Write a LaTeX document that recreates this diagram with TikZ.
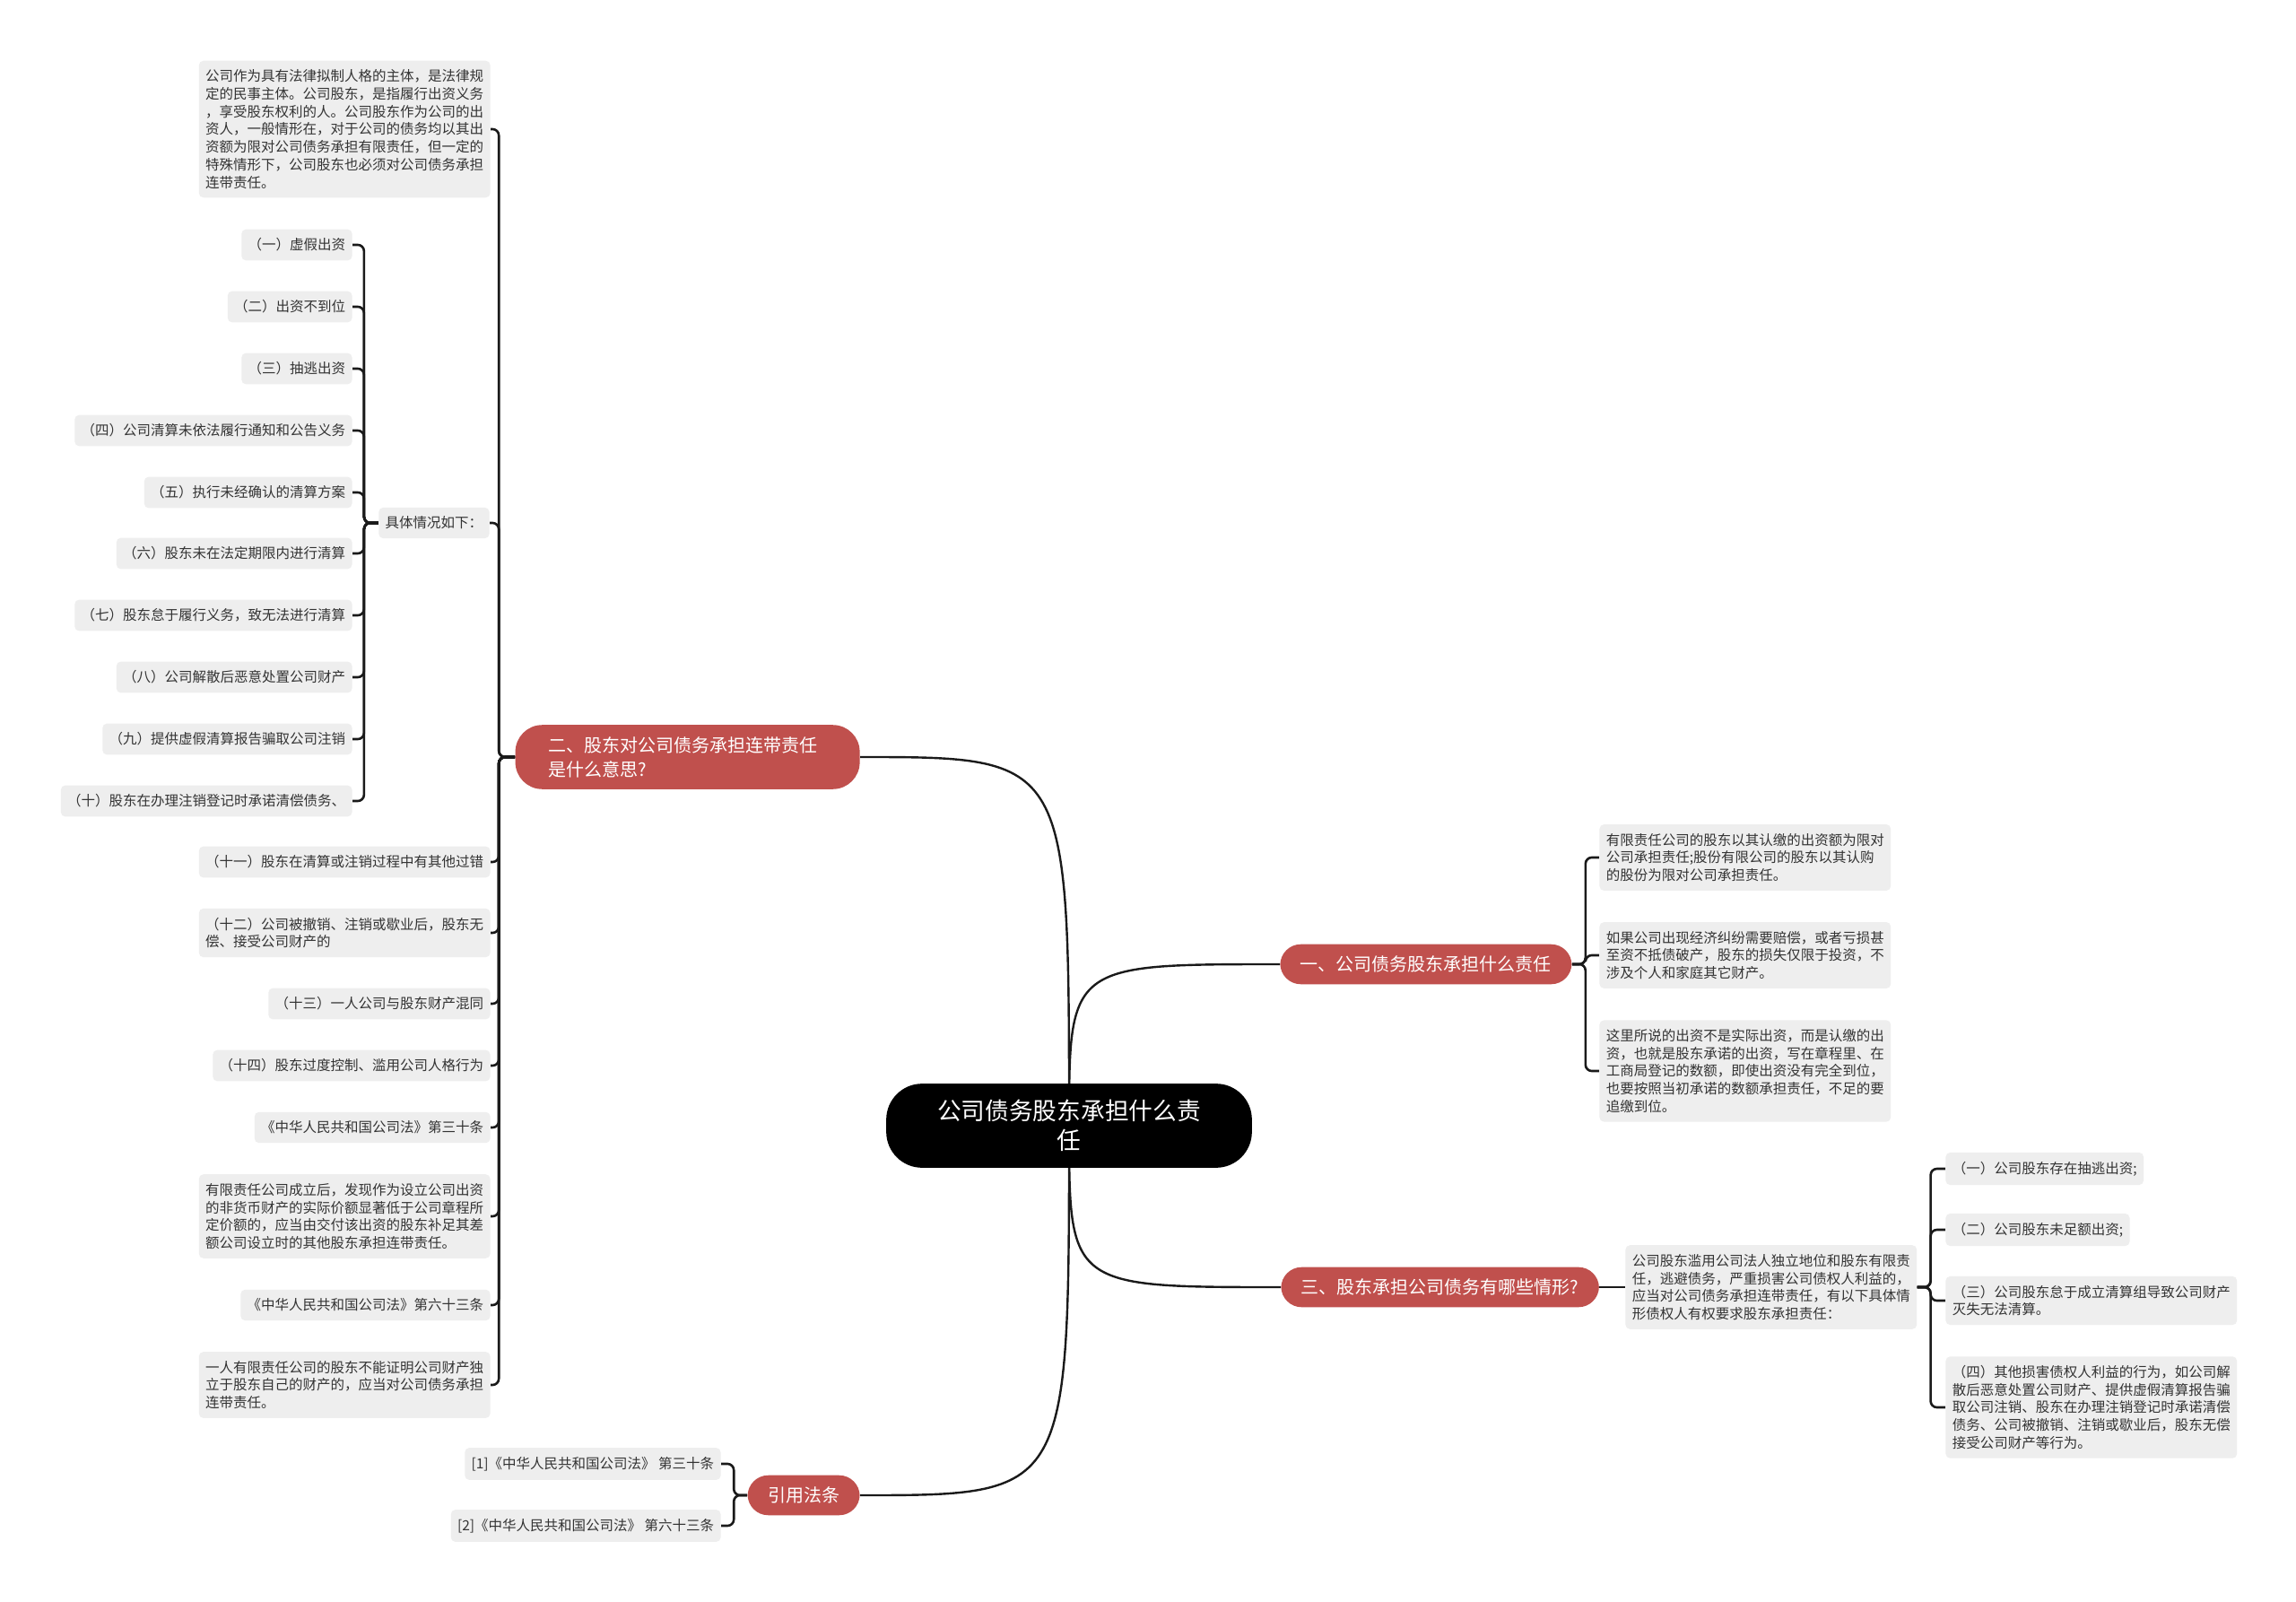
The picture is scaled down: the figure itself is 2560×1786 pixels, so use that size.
\documentclass[tikz,border=0pt]{standalone}
\usepackage{fontspec}
\setmainfont{Noto Sans CJK SC}
\usetikzlibrary{backgrounds}
\definecolor{branchred}{HTML}{C0504D}
\definecolor{leafgray}{HTML}{EEEEEE}
\definecolor{leaftext}{HTML}{333333}
\definecolor{linkdark}{HTML}{1A1A1A}
\tikzset{every node/.style={inner sep=0pt},line cap=round,line join=round}
\tikzset{
  root/.style={fill=black,text=white,rounded corners=20pt,align=center,
    inner xsep=28.5pt,inner ysep=9pt,font=\fontsize{13.35}{16.5}\selectfont},
  branch/.style={fill=branchred,text=white,rounded corners=11.5pt,align=left,
    inner xsep=11.25pt,inner ysep=6.5pt,font=\fontsize{10}{13.5}\selectfont},
  leaf/.style={fill=leafgray,text=leaftext,rounded corners=2.5pt,align=left,
    inner xsep=3.7pt,inner ysep=5pt,font=\fontsize{7.75}{9.85}\selectfont},
  link/.style={draw=linkdark,line width=1.2pt},
  elbow/.style={draw=linkdark,line width=1.3pt,rounded corners=3.5pt}
}

\begin{document}
\begin{tikzpicture}[x=0.5pt,y=-0.5pt]
  \path[use as bounding box] (0,0) rectangle (2560,1786);
  % centre and main branches
  \node[root] (ctr) at (1192,1255) {公司债务股东承担什么责\\任};
  \node[branch,anchor=west] (b1) at (1427,1075) {一、公司债务股东承担什么责任};
  \node[branch,anchor=east,text width=155pt,inner xsep=18.5pt,rounded corners=15pt] (b2) at (959,844) {二、股东对公司债务承担连带责任\\是什么意思?};
  \node[branch,anchor=west] (b3) at (1428,1435) {三、股东承担公司债务有哪些情形?};
  \node[branch,anchor=east] (b4) at (959,1667) {引用法条};

  % branch one
  \node[leaf,anchor=west] (r1) at (1783,956) {有限责任公司的股东以其认缴的出资额为限对\\公司承担责任;股份有限公司的股东以其认购\\的股份为限对公司承担责任。};
  \node[leaf,anchor=west] (r2) at (1783,1065) {如果公司出现经济纠纷需要赔偿，或者亏损甚\\至资不抵债破产，股东的损失仅限于投资，不\\涉及个人和家庭其它财产。};
  \node[leaf,anchor=west] (r3) at (1783,1194) {这里所说的出资不是实际出资，而是认缴的出\\资，也就是股东承诺的出资，写在章程里、在\\工商局登记的数额，即使出资没有完全到位，\\也要按照当初承诺的数额承担责任，不足的要\\追缴到位。};

  % branch two
  \node[leaf,anchor=east] (l1) at (547,144) {公司作为具有法律拟制人格的主体，是法律规\\定的民事主体。公司股东，是指履行出资义务\\，享受股东权利的人。公司股东作为公司的出\\资人，一般情形在，对于公司的债务均以其出\\资额为限对公司债务承担有限责任，但一定的\\特殊情形下，公司股东也必须对公司债务承担\\连带责任。};
  \node[leaf,anchor=east] (l2) at (546,583) {具体情况如下：};
  \node[leaf,anchor=east] (case1) at (393,273) {（一）虚假出资};
  \node[leaf,anchor=east] (case2) at (393,342) {（二）出资不到位};
  \node[leaf,anchor=east] (case3) at (393,411) {（三）抽逃出资};
  \node[leaf,anchor=east] (case4) at (393,480) {（四）公司清算未依法履行通知和公告义务};
  \node[leaf,anchor=east] (case5) at (393,549) {（五）执行未经确认的清算方案};
  \node[leaf,anchor=east] (case6) at (393,617) {（六）股东未在法定期限内进行清算};
  \node[leaf,anchor=east] (case7) at (393,686) {（七）股东怠于履行义务，致无法进行清算};
  \node[leaf,anchor=east] (case8) at (393,755) {（八）公司解散后恶意处置公司财产};
  \node[leaf,anchor=east] (case9) at (393,824) {（九）提供虚假清算报告骗取公司注销};
  \node[leaf,anchor=east] (case10) at (393,893) {（十）股东在办理注销登记时承诺清偿债务、};
  \node[leaf,anchor=east] (l3) at (547,961) {（十一）股东在清算或注销过程中有其他过错};
  \node[leaf,anchor=east] (l4) at (547,1040) {（十二）公司被撤销、注销或歇业后，股东无\\偿、接受公司财产的};
  \node[leaf,anchor=east] (l5) at (547,1119) {（十三）一人公司与股东财产混同};
  \node[leaf,anchor=east] (l6) at (547,1188) {（十四）股东过度控制、滥用公司人格行为};
  \node[leaf,anchor=east] (l7) at (547,1257) {《中华人民共和国公司法》第三十条};
  \node[leaf,anchor=east] (l8) at (547,1356) {有限责任公司成立后，发现作为设立公司出资\\的非货币财产的实际价额显著低于公司章程所\\定价额的，应当由交付该出资的股东补足其差\\额公司设立时的其他股东承担连带责任。};
  \node[leaf,anchor=east] (l9) at (547,1455) {《中华人民共和国公司法》第六十三条};
  \node[leaf,anchor=east] (l10) at (547,1544) {一人有限责任公司的股东不能证明公司财产独\\立于股东自己的财产的，应当对公司债务承担\\连带责任。};

  % branch three
  \node[leaf,anchor=west] (m0) at (1812,1435) {公司股东滥用公司法人独立地位和股东有限责\\任，逃避债务，严重损害公司债权人利益的，\\应当对公司债务承担连带责任，有以下具体情\\形债权人有权要求股东承担责任：};
  \node[leaf,anchor=west] (m1) at (2169,1303) {（一）公司股东存在抽逃出资;};
  \node[leaf,anchor=west] (m2) at (2169,1371) {（二）公司股东未足额出资;};
  \node[leaf,anchor=west] (m3) at (2169,1450) {（三）公司股东怠于成立清算组导致公司财产\\灭失无法清算。};
  \node[leaf,anchor=west] (m4) at (2169,1569) {（四）其他损害债权人利益的行为，如公司解\\散后恶意处置公司财产、提供虚假清算报告骗\\取公司注销、股东在办理注销登记时承诺清偿\\债务、公司被撤销、注销或歇业后，股东无偿\\接受公司财产等行为。};

  % branch four
  \node[leaf,anchor=east] (c1) at (804,1632) {[1]《中华人民共和国公司法》 第三十条};
  \node[leaf,anchor=east] (c2) at (804,1701) {[2]《中华人民共和国公司法》 第六十三条};

  \begin{scope}[on background layer]
    \fill[white] (0,0) rectangle (2560,1786);
    \draw[link] (ctr.center) .. controls (ctr.center |- b1.west) .. (b1.west);
    \draw[link] (ctr.center) .. controls (ctr.center |- b2.east) .. (b2.east);
    \draw[link] (ctr.center) .. controls (ctr.center |- b3.west) .. (b3.west);
    \draw[link] (ctr.center) .. controls (ctr.center |- b4.east) .. (b4.east);

    \draw[elbow] (b1.east) -- ++(15,0) |- (r1.west);
    \draw[elbow] (b1.east) -- ++(15,0) |- (r2.west);
    \draw[elbow] (b1.east) -- ++(15,0) |- (r3.west);

    \draw[elbow] (b2.west) -- ++(-18,0) |- (l1.east);
    \draw[elbow] (b2.west) -- ++(-18,0) |- (l2.east);
    \draw[elbow] (b2.west) -- ++(-18,0) |- (l3.east);
    \draw[elbow] (b2.west) -- ++(-18,0) |- (l4.east);
    \draw[elbow] (b2.west) -- ++(-18,0) |- (l5.east);
    \draw[elbow] (b2.west) -- ++(-18,0) |- (l6.east);
    \draw[elbow] (b2.west) -- ++(-18,0) |- (l7.east);
    \draw[elbow] (b2.west) -- ++(-18,0) |- (l8.east);
    \draw[elbow] (b2.west) -- ++(-18,0) |- (l9.east);
    \draw[elbow] (b2.west) -- ++(-18,0) |- (l10.east);

    \draw[elbow] (l2.west) -- ++(-16,0) |- (case1.east);
    \draw[elbow] (l2.west) -- ++(-16,0) |- (case2.east);
    \draw[elbow] (l2.west) -- ++(-16,0) |- (case3.east);
    \draw[elbow] (l2.west) -- ++(-16,0) |- (case4.east);
    \draw[elbow] (l2.west) -- ++(-16,0) |- (case5.east);
    \draw[elbow] (l2.west) -- ++(-16,0) |- (case6.east);
    \draw[elbow] (l2.west) -- ++(-16,0) |- (case7.east);
    \draw[elbow] (l2.west) -- ++(-16,0) |- (case8.east);
    \draw[elbow] (l2.west) -- ++(-16,0) |- (case9.east);
    \draw[elbow] (l2.west) -- ++(-16,0) |- (case10.east);

    \draw[elbow] (b3.east) -- (m0.west);
    \draw[elbow] (m0.east) -- ++(15,0) |- (m1.west);
    \draw[elbow] (m0.east) -- ++(15,0) |- (m2.west);
    \draw[elbow] (m0.east) -- ++(15,0) |- (m3.west);
    \draw[elbow] (m0.east) -- ++(15,0) |- (m4.west);

    \draw[elbow] (b4.west) -- ++(-15,0) |- (c1.east);
    \draw[elbow] (b4.west) -- ++(-15,0) |- (c2.east);
  \end{scope}
\end{tikzpicture}
\end{document}
